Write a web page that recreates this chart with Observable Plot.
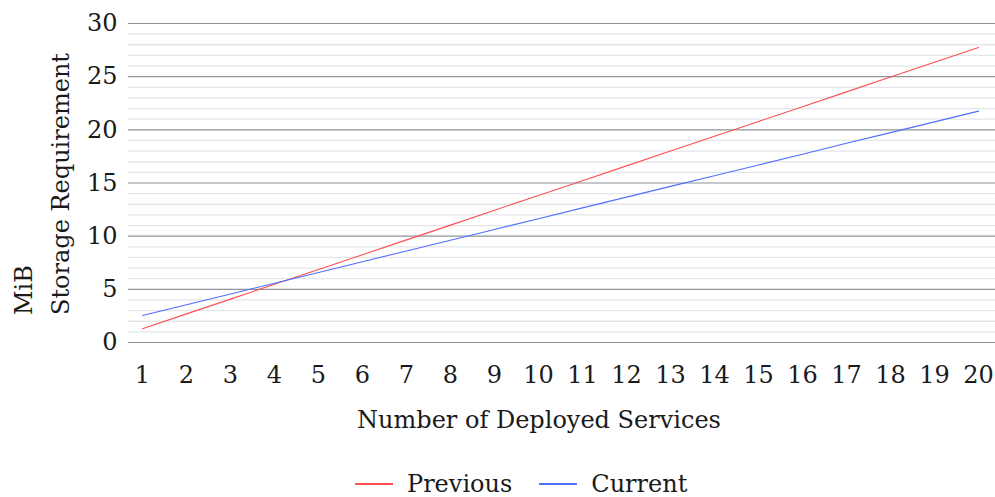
<!DOCTYPE html>
<html>
<head>
<meta charset="utf-8">
<script src="https://cdn.jsdelivr.net/npm/d3@7"></script>
<script src="https://cdn.jsdelivr.net/npm/@observablehq/plot@0.6"></script>
<style>
  html, body { margin: 0; padding: 0; background: #fff; }
  body { width: 995px; height: 497px; overflow: hidden; font-family: "DejaVu Serif", serif; position: relative; }
  #legend { position: absolute; left: 355px; top: 472px; height: 24px; display: flex; align-items: center; font-size: 24px; line-height: 24px; color: #1a1a1a; }
  .item { display: flex; align-items: center; margin-right: 27px; }
  .swatch { width: 38px; height: 1.3px; margin-right: 14px; }
</style>
</head>
<body>
<div id="chart"></div>
<div id="legend"></div>
<script>
const services = [1,2,3,4,5,6,7,8,9,10,11,12,13,14,15,16,17,18,19,20];
const previous = [1.3,2.69,4.08,5.48,6.87,8.26,9.65,11.04,12.44,13.83,15.22,16.61,18.0,19.4,20.79,22.18,23.57,24.96,26.36,27.75];
const current = [2.54,3.55,4.56,5.57,6.59,7.6,8.61,9.62,10.63,11.64,12.66,13.67,14.68,15.69,16.7,17.71,18.73,19.74,20.75,21.76];
const seriesNames = ["Previous", "Current"];
const seriesColors = ["#ff4f4f", "#4f6fff"];
const majorTicks = [0,5,10,15,20,25,30];
const minorTicks = d3.range(0, 31).filter(v => v % 5 !== 0);

const data = [
  ...services.map((s, i) => ({x: s, y: previous[i], series: seriesNames[0]})),
  ...services.map((s, i) => ({x: s, y: current[i], series: seriesNames[1]}))
];

const fs = 24;
const chart = Plot.plot({
  width: 995,
  height: 450,
  marginLeft: 128,
  marginRight: 0,
  marginTop: 23,
  marginBottom: 108,
  style: {fontFamily: "'DejaVu Serif', serif", fontSize: fs + "px", color: "#1a1a1a", background: "#fff"},
  x: {domain: [1, 20], insetLeft: 14, insetRight: 17, ticks: services, tickFormat: d3.format("d")},
  y: {domain: [0, 30], ticks: majorTicks},
  color: {domain: seriesNames, range: seriesColors},
  marks: [
    Plot.ruleY(minorTicks, {stroke: "#e3e5e9", strokeWidth: 1.3}),
    Plot.ruleY(majorTicks, {stroke: "#8d9399", strokeWidth: 1.2}),
    Plot.axisY({ticks: majorTicks, tickSize: 0, tickPadding: 11, label: null, fontSize: fs}),
    Plot.axisX({ticks: services, tickSize: 0, tickPadding: 23, label: null, fontSize: fs}),
    Plot.line(data, {x: "x", y: "y", stroke: "series", strokeWidth: 1.1})
  ]
});
document.getElementById("chart").appendChild(chart);

const svg = d3.select(chart);
svg.append("text")
  .attr("x", 539).attr("y", 428)
  .attr("text-anchor", "middle")
  .attr("font-size", fs)
  .attr("fill", "#1a1a1a")
  .text("Number of Deployed Services");
svg.append("text")
  .attr("transform", "translate(69,315) rotate(-90)")
  .attr("text-anchor", "start")
  .attr("font-size", fs)
  .attr("fill", "#1a1a1a")
  .text("Storage Requirement");
svg.append("text")
  .attr("transform", "translate(32,315) rotate(-90)")
  .attr("text-anchor", "start")
  .attr("font-size", fs)
  .attr("fill", "#1a1a1a")
  .text("MiB");

const legend = d3.select("#legend");
seriesNames.forEach((name, i) => {
  const item = legend.append("div").attr("class", "item");
  item.append("div").attr("class", "swatch").style("background-color", seriesColors[i]);
  item.append("span").text(name);
});
</script>
</body>
</html>
